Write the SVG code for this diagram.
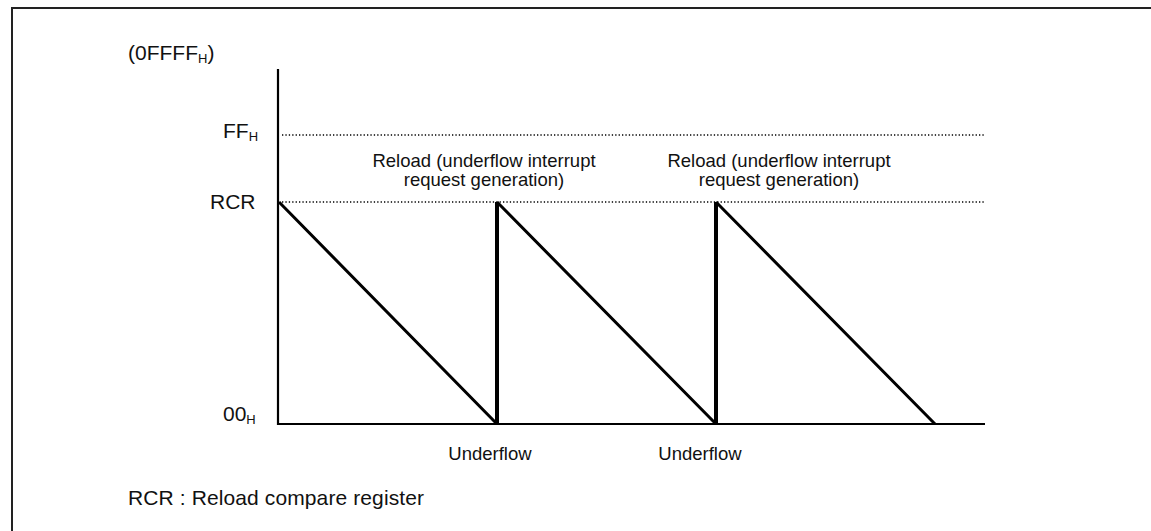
<svg xmlns="http://www.w3.org/2000/svg" width="1151" height="531" viewBox="0 0 1151 531">
<style>
text { font-family: "Liberation Sans", Arial, sans-serif; fill: #111; }
.ax { font-size: 21px; }
.lb { font-size: 18.5px; }
.sub { font-size: 13px; }
.frame { fill: none; stroke: #222; stroke-width: 2; }
.axis { stroke: #000; stroke-width: 2.2; fill: none; }
.dot { stroke: #000; stroke-width: 1.3; stroke-dasharray: 1.3 2.1; fill: none; }
.diag { stroke: #000; stroke-width: 3; fill: none; }
.vert { stroke: #000; stroke-width: 4; fill: none; }
</style>
<rect width="1151" height="531" fill="#fff"/>
<path class="frame" d="M12,540 V8 H1160"/>
<g id="axes">
  <path class="axis" d="M278,69 V425 M278,424 H985"/>
  <path class="dot" d="M282,135 H985 M282,202 H985"/>
</g>
<g id="axis-labels">
  <text class="ax" x="128" y="60">(0FFFF<tspan class="sub" dy="3">H</tspan><tspan dy="-3">)</tspan></text>
  <text class="ax" x="223" y="138">FF<tspan class="sub" dy="3">H</tspan></text>
  <text class="ax" x="210" y="209">RCR</text>
  <text class="ax" x="223" y="421">00<tspan class="sub" dy="3">H</tspan></text>
</g>
<g id="sawtooth">
  <path class="diag" d="M279,202 L497,424 M497,202 L716,424 M716,202 L935,424"/>
  <path class="vert" d="M497,425 V202 M716,425 V202"/>
</g>
<g id="reload1">
  <text class="lb" x="484" y="167" text-anchor="middle">Reload (underflow interrupt</text>
  <text class="lb" x="484" y="186" text-anchor="middle">request generation)</text>
</g>
<g id="reload2">
  <text class="lb" x="779" y="167" text-anchor="middle">Reload (underflow interrupt</text>
  <text class="lb" x="779" y="186" text-anchor="middle">request generation)</text>
</g>
<g id="underflow1">
  <text class="lb" x="490" y="460" text-anchor="middle">Underflow</text>
</g>
<g id="underflow2">
  <text class="lb" x="700" y="460" text-anchor="middle">Underflow</text>
</g>
<g id="note">
  <text class="ax" x="128" y="505" textLength="296" lengthAdjust="spacing">RCR : Reload compare register</text>
</g>
</svg>
